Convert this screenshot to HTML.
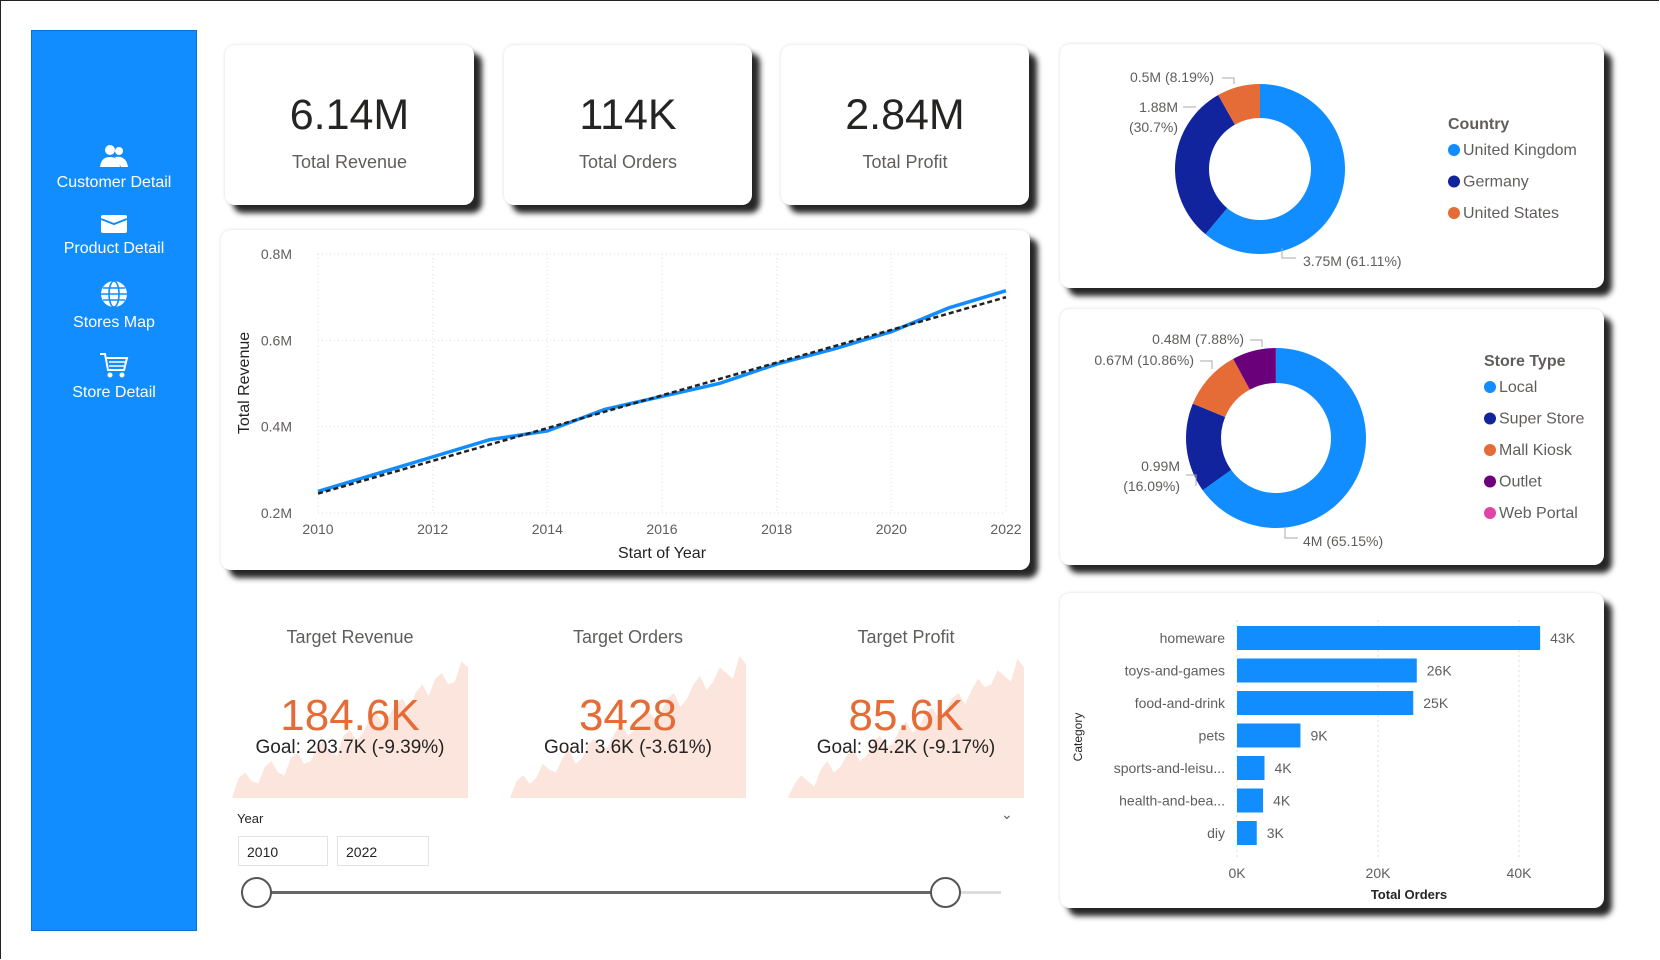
<!DOCTYPE html>
<html><head><meta charset="utf-8"><style>
body{margin:0;width:1660px;height:960px;background:#fff;font-family:"Liberation Sans",sans-serif;position:relative;overflow:hidden}
.frame{position:absolute;left:0;top:0;width:1658px;height:958px;border:1px solid #222;border-right:none;border-bottom:none}
.side{position:absolute;left:31px;top:30px;width:164px;height:899px;background:#118DFF;border:1px solid #0b6fd0}
.nav{position:absolute;left:0;width:164px;text-align:center;color:#fff;font-size:16px}
.card{position:absolute;background:#fff;border-radius:10px;box-shadow:8px 8px 6px rgba(0,0,0,0.85),0 0 3px rgba(0,0,0,0.15)}
.kv{position:absolute;width:100%;text-align:center;font-size:43px;color:#252423;top:46px}
.kl{position:absolute;width:100%;text-align:center;font-size:18px;color:#605E5C;top:107px}
</style></head><body>
<div class="frame"></div>
<div class="side">
<div class="nav" style="top:112px"><svg width="30" height="26" viewBox="0 0 30 26"><circle cx="11" cy="7" r="5" fill="#fff"/><circle cx="20" cy="8" r="4" fill="#fff"/><path d="M1 24 Q2 14 11 14 Q20 14 21 24Z" fill="#fff"/><path d="M16 14 Q27 12 29 24 H22Z" fill="#fff"/></svg><br>Customer Detail</div>
<div class="nav" style="top:180px"><svg width="30" height="24" viewBox="0 0 30 24"><rect x="2" y="4" width="26" height="18" rx="2" fill="#fff"/><path d="M2 8 L15 13 L28 8" stroke="#118DFF" stroke-width="2" fill="none"/></svg><br>Product Detail</div>
<div class="nav" style="top:248px"><svg width="30" height="30" viewBox="0 0 30 30"><circle cx="15" cy="15" r="13" fill="#fff"/><g stroke="#118DFF" stroke-width="1.6" fill="none"><ellipse cx="15" cy="15" rx="5" ry="13"/><line x1="2" y1="15" x2="28" y2="15"/><line x1="4" y1="9" x2="26" y2="9"/><line x1="4" y1="21" x2="26" y2="21"/></g></svg><br>Stores Map</div>
<div class="nav" style="top:320px"><svg width="30" height="28" viewBox="0 0 30 28"><path d="M1 3 H6 L9 19 H25 L28 7 H7" stroke="#fff" stroke-width="2" fill="none"/><line x1="10" y1="11" x2="26" y2="11" stroke="#fff" stroke-width="1.5"/><line x1="10" y1="15" x2="25" y2="15" stroke="#fff" stroke-width="1.5"/><circle cx="11" cy="24" r="2.5" fill="#fff"/><circle cx="23" cy="24" r="2.5" fill="#fff"/></svg><br>Store Detail</div>
</div>

<div class="card" style="left:225px;top:45px;width:249px;height:160px"><div class="kv">6.14M</div><div class="kl">Total Revenue</div></div>
<div class="card" style="left:504px;top:45px;width:248px;height:160px"><div class="kv">114K</div><div class="kl">Total Orders</div></div>
<div class="card" style="left:781px;top:45px;width:248px;height:160px"><div class="kv">2.84M</div><div class="kl">Total Profit</div></div>
<div class="card" style="left:221px;top:230px;width:809px;height:340px"></div>
<div class="card" style="left:1060px;top:44px;width:544px;height:244px"></div>
<div class="card" style="left:1060px;top:309px;width:544px;height:256px"></div>
<div class="card" style="left:1060px;top:593px;width:544px;height:315px"></div>

<svg id="s" width="1660" height="960" style="position:absolute;left:0;top:0" font-family="Liberation Sans, sans-serif"></svg>
<script>
const years=[2010,2011,2012,2013,2014,2015,2016,2017,2018,2019,2020,2021,2022];
const revenue=[0.25,0.29,0.33,0.37,0.39,0.44,0.47,0.50,0.545,0.58,0.62,0.675,0.715];
const trendStart=0.245, trendEnd=0.70;
const yTicks=[0.2,0.4,0.6,0.8];
const xTicks=[2010,2012,2014,2016,2018,2020,2022];
const countryNames=["United Kingdom","Germany","United States"];
const countryVals=[61.11,30.7,8.19];
const storeNames=["Local","Super Store","Mall Kiosk","Outlet","Web Portal"];
const storeVals=[65.15,16.09,10.86,7.88,0.02];
const cats=["homeware","toys-and-games","food-and-drink","pets","sports-and-leisu...","health-and-bea...","diy"];
const orders=[43,25.5,25,9,3.9,3.7,2.8];
const orderLabels=["43K","26K","25K","9K","4K","4K","3K"];
const spark1=[0,14,18,12,10,22,26,18,16,28,32,24,26,36,40,32,30,44,48,40,46,56,60,52,58,66,70,62,74,80,72,84,88,80,82,96,92];
const spark2=[0,12,16,10,14,24,20,18,28,34,24,28,38,42,34,36,46,52,44,48,58,62,56,60,70,74,64,70,80,86,76,82,92,88,84,100,94];
const spark3=[0,10,16,12,8,20,26,18,22,30,34,26,30,40,44,36,38,48,54,46,50,60,64,56,62,70,74,66,76,84,78,80,90,86,82,98,92];
const S=document.getElementById('s');const NS='http://www.w3.org/2000/svg';
function el(t,a,txt){const e=document.createElementNS(NS,t);for(const k in a)e.setAttribute(k,a[k]);if(txt!==undefined)e.textContent=txt;S.appendChild(e);return e;}
const X=v=>318+(v-2010)/12*688, Y=v=>513-(v-0.2)/0.6*259;
yTicks.forEach(t=>{const g=el('line',{x1:318,x2:1006,y1:Y(t),y2:Y(t),stroke:'#ddd','stroke-dasharray':'1 3'});
const l=el('text',{x:292,y:Y(t)+5,'text-anchor':'end','font-size':14,fill:'#605E5C'},t+'M');});
xTicks.forEach(t=>{const g=el('line',{x1:X(t),x2:X(t),y1:254,y2:513,stroke:'#e4e4e4','stroke-dasharray':'1 3'});
const l=el('text',{x:X(t),y:534,'text-anchor':'middle','font-size':14,fill:'#605E5C'},t);});
let t1=el('text',{x:662,y:558,'text-anchor':'middle','font-size':16,fill:'#252423'},'Start of Year');
let t2=el('text',{x:0,y:0,transform:'translate(249,383) rotate(-90)','text-anchor':'middle','font-size':16,fill:'#252423'},'Total Revenue');
let ln=el('polyline',{points:years.map((y,i)=>X(y)+','+Y(revenue[i])).join(' '),fill:'none',stroke:'#118DFF','stroke-width':3.5});
let tr=el('line',{x1:X(2010),y1:Y(trendStart),x2:X(2022),y2:Y(trendEnd),stroke:'#222','stroke-width':2.5,'stroke-dasharray':'5 3'});
function donut(cx,cy,ro,ri,vals,cols,name){const tot=vals.reduce((a,b)=>a+b,0);let a=0;vals.forEach((v,i)=>{const a0=a/tot*2*Math.PI,a1=(a+v)/tot*2*Math.PI;a+=v;
const p=(r,an)=>[cx+r*Math.sin(an),cy-r*Math.cos(an)];const lg=(a1-a0)>Math.PI?1:0;
const [x0,y0]=p(ro,a0),[x1,y1]=p(ro,a1),[x2,y2]=p(ri,a1),[x3,y3]=p(ri,a0);
const e=el('path',{d:`M${x0},${y0}A${ro},${ro} 0 ${lg} 1 ${x1},${y1}L${x2},${y2}A${ri},${ri} 0 ${lg} 0 ${x3},${y3}Z`,fill:cols[i]});
});}
const C=['#118DFF','#12239E','#E66C37','#6B007B','#E044A7'];
donut(1260,169,85,51,countryVals,C,'country');
donut(1276,438,90,55,storeVals,C,'store-type');
function lab(x,y,t,anc){const e=el('text',{x:x,y:y,'text-anchor':anc||'start','font-size':14,fill:'#605E5C'},t);}
lab(1214,82,'0.5M ('+countryVals[2]+'%)','end');lab(1178,112,'1.88M','end');lab(1178,132,'('+countryVals[1]+'%)','end');lab(1303,266,'3.75M ('+countryVals[0]+'%)');
lab(1244,344,'0.48M ('+storeVals[3]+'%)','end');lab(1194,365,'0.67M ('+storeVals[2]+'%)','end');lab(1180,471,'0.99M','end');lab(1180,491,'('+storeVals[1]+'%)','end');lab(1303,546,'4M ('+storeVals[0]+'%)');
el('path',{d:'M1222,78 H1234 V84 M1183,107 H1196 M1282,248 V258 H1296 M1250,340 H1262 V347 M1200,361 H1212 V369 M1186,475 H1196 V486 M1285,528 V538 H1298',stroke:'#aaa',fill:'none'});
function legend(x,y,title,names,gap){let e=el('text',{x:x,y:y,'font-size':16,'font-weight':'bold',fill:'#605E5C'},title);
names.forEach((n,i)=>{const yy=y+26+i*gap;const c=el('circle',{cx:x+6,cy:yy-5,r:6,fill:C[i]});
const t=el('text',{x:x+15,y:yy,'font-size':16,fill:'#605E5C'},n);});}
legend(1448,129,'Country',countryNames,31.5);
legend(1484,366,'Store Type',storeNames,31.5);
const BX=v=>1237+v/40*282;const BY=i=>638+i*32.5;
[0,20,40].forEach(t=>{const g=el('line',{x1:BX(t),x2:BX(t),y1:620,y2:860,stroke:'#ddd','stroke-dasharray':'2 3'});
const l=el('text',{x:BX(t),y:878,'text-anchor':'middle','font-size':14,fill:'#605E5C'},t+'K');});
cats.forEach((c,i)=>{const b=el('rect',{x:BX(0),y:BY(i)-12,width:BX(orders[i])-BX(0),height:24,fill:'#118DFF'});
const l=el('text',{x:1225,y:BY(i)+5,'text-anchor':'end','font-size':14,fill:'#605E5C'},c);
const v=el('text',{x:BX(orders[i])+10,y:BY(i)+5,'font-size':14,fill:'#605E5C'},orderLabels[i]);});
let bt=el('text',{x:1409,y:899,'text-anchor':'middle','font-size':13,'font-weight':'bold',fill:'#252423'},'Total Orders');
let bc=el('text',{x:0,y:0,transform:'translate(1082,737) rotate(-90)','text-anchor':'middle','font-size':12,fill:'#252423'},'Category');
function target(x0,data,title,val,goal,name){const w=236,yb=798,h=142;const pts=data.map((d,i)=>(x0+i/(data.length-1)*w)+','+(yb-d/100*h));
const a=el('polygon',{points:x0+','+yb+' '+pts.join(' ')+' '+(x0+w)+','+yb,fill:'#FBE5DD'});
const cx=x0+118;let e=el('text',{x:cx,y:643,'text-anchor':'middle','font-size':18,fill:'#605E5C'},title);
e=el('text',{x:cx,y:730,'text-anchor':'middle','font-size':44,fill:'#E66C37'},val);
e=el('text',{x:cx,y:753,'text-anchor':'middle','font-size':19,fill:'#252423'},goal);}
target(232,spark1,'Target Revenue','184.6K','Goal: 203.7K (-9.39%)','target-revenue');
target(510,spark2,'Target Orders','3428','Goal: 3.6K (-3.61%)','target-orders');
target(788,spark3,'Target Profit','85.6K','Goal: 94.2K (-9.17%)','target-profit');
</script>
<div style="position:absolute;left:237px;top:811px;font-size:13px;color:#252423">Year</div>
<div style="position:absolute;left:1001px;top:806px;font-size:14px;color:#605E5C">&#8964;</div>
<div style="position:absolute;left:238px;top:836px;width:90px;height:30px;border:1px solid #e3e3e3;box-sizing:border-box;padding:7px 8px;font-size:14px;color:#252423">2010</div>
<div style="position:absolute;left:337px;top:836px;width:92px;height:30px;border:1px solid #e3e3e3;box-sizing:border-box;padding:7px 8px;font-size:14px;color:#252423">2022</div>
<div style="position:absolute;left:256px;top:891px;width:690px;height:3px;background:#666"></div>
<div style="position:absolute;left:946px;top:891px;width:55px;height:3px;background:#ddd"></div>
<div style="position:absolute;left:241px;top:877px;width:27px;height:27px;border:2px solid #555;border-radius:50%;background:#fff"></div>
<div style="position:absolute;left:930px;top:877px;width:27px;height:27px;border:2px solid #555;border-radius:50%;background:#fff"></div>
</body></html>
